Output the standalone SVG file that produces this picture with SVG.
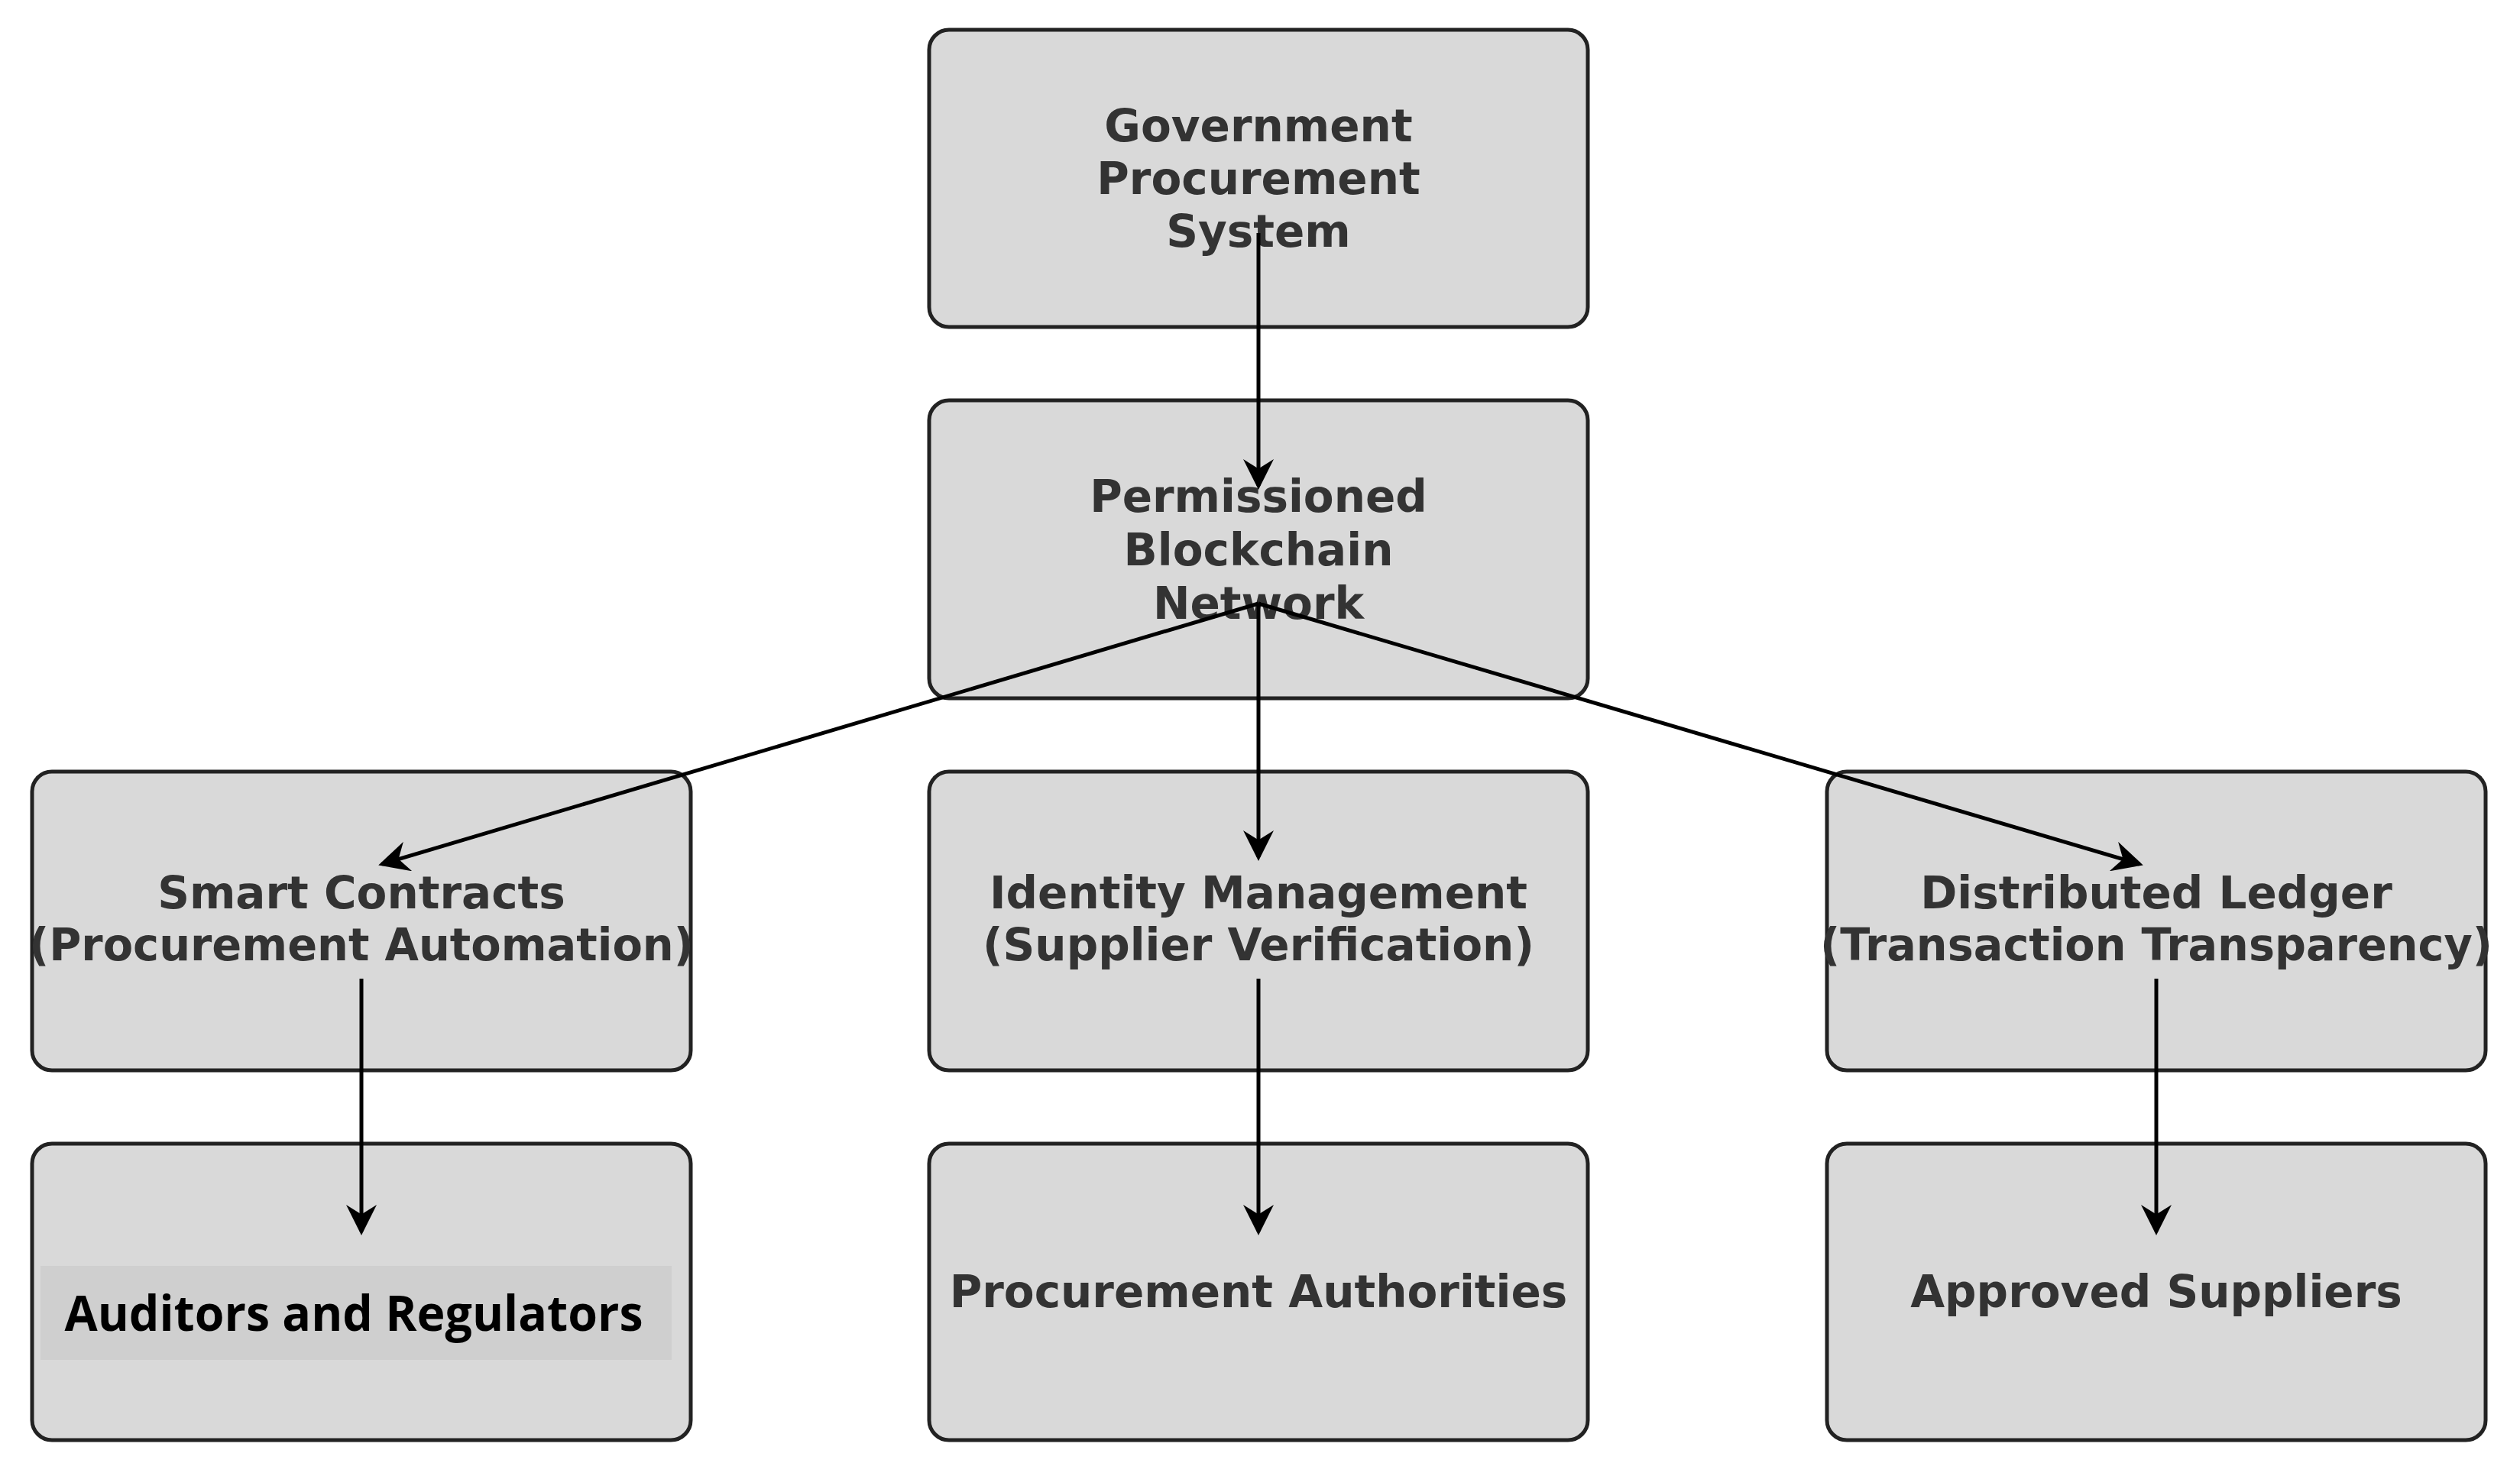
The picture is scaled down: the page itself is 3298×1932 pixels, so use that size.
<svg xmlns="http://www.w3.org/2000/svg" width="3298" height="1932" viewBox="0 0 3298 1932">
<style>
.box{fill:#d9d9d9;stroke:#222;stroke-width:5}
.t{font-family:"DejaVu Sans",sans-serif;font-weight:bold;font-size:58px;fill:#333;text-anchor:middle}
.a{font-family:"Open Sans","Noto Sans",sans-serif;font-weight:bold;font-size:64px;fill:#000;text-anchor:middle}
.c{stroke:#000;stroke-width:5;fill:none;marker-end:url(#ah)}
</style>
<defs>
<marker id="ah" markerWidth="8" markerHeight="8" refX="7" refY="4" orient="auto" markerUnits="strokeWidth">
<path d="M0,0 L8,4 L0,8 L2.5,4 z" fill="#000"/>
</marker>
</defs>
<rect width="3298" height="1932" fill="#fff"/>
<g id="n1"><rect class="box" x="1216" y="39" width="862" height="389" rx="26"/>
<text class="t" x="1647" y="185">Government</text><text class="t" x="1647" y="254">Procurement</text><text class="t" x="1647" y="323">System</text></g>
<g id="n2"><rect class="box" x="1216" y="524" width="862" height="390" rx="26"/>
<text class="t" x="1647" y="670">Permissioned</text><text class="t" x="1647" y="740">Blockchain</text><text class="t" x="1647" y="810">Network</text></g>
<g id="n3"><rect class="box" x="42" y="1010" width="862" height="391" rx="26"/>
<text class="t" x="473" y="1189">Smart Contracts</text><text class="t" x="473" y="1257" textLength="870" lengthAdjust="spacingAndGlyphs">(Procurement Automation)</text></g>
<g id="n4"><rect class="box" x="1216" y="1010" width="862" height="391" rx="26"/>
<text class="t" x="1647" y="1189">Identity Management</text><text class="t" x="1647" y="1257">(Supplier Verification)</text></g>
<g id="n5"><rect class="box" x="2391" y="1010" width="862" height="391" rx="26"/>
<text class="t" x="2822" y="1189">Distributed Ledger</text><text class="t" x="2822" y="1257" textLength="880" lengthAdjust="spacingAndGlyphs">(Transaction Transparency)</text></g>
<g id="n6"><rect class="box" x="42" y="1497" width="862" height="388" rx="26"/>
<rect x="53" y="1657" width="826" height="123" fill="#cfcfcf"/>
<text class="a" x="463" y="1742" textLength="757" lengthAdjust="spacingAndGlyphs">Auditors and Regulators</text></g>
<g id="n7"><rect class="box" x="1216" y="1497" width="862" height="388" rx="26"/>
<text class="t" x="1647" y="1711">Procurement Authorities</text></g>
<g id="n8"><rect class="box" x="2391" y="1497" width="862" height="388" rx="26"/>
<text class="t" x="2822" y="1711">Approved Suppliers</text></g>
<g id="connectors">
<line class="c" x1="1647" y1="305" x2="1647" y2="636"/>
<line class="c" x1="1647" y1="790" x2="500" y2="1131"/>
<line class="c" x1="1647" y1="790" x2="1647" y2="1122"/>
<line class="c" x1="1647" y1="790" x2="2800" y2="1131"/>
<line class="c" x1="473" y1="1281" x2="473" y2="1612"/>
<line class="c" x1="1647" y1="1281" x2="1647" y2="1612"/>
<line class="c" x1="2822" y1="1281" x2="2822" y2="1612"/>
</g>
</svg>
